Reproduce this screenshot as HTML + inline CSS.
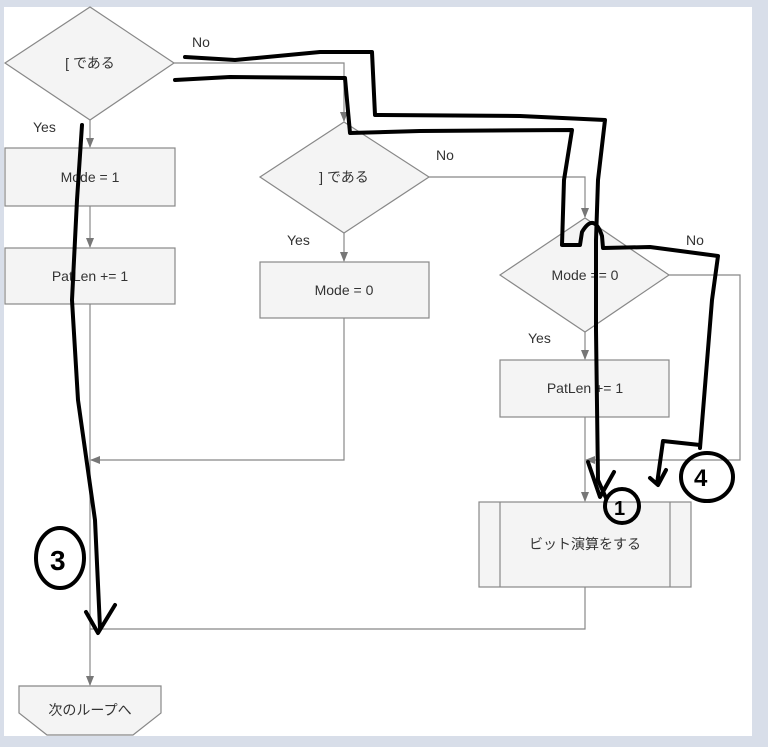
<!DOCTYPE html>
<html><head><meta charset="utf-8"><style>
html,body{margin:0;padding:0;background:#d8dee9;}
svg{display:block;}
text{font-family:"Liberation Sans","Noto Sans CJK JP",sans-serif;font-size:14px;fill:#333;}
</style></head><body>
<svg width="768" height="747" viewBox="0 0 768 747" xmlns="http://www.w3.org/2000/svg">
<rect x="0" y="0" width="768" height="747" fill="#d8dee9"/>
<rect x="4" y="7" width="748" height="729" fill="#fff"/>
<defs><marker id="a" markerWidth="10" markerHeight="10" refX="9" refY="5" orient="auto" markerUnits="userSpaceOnUse"><path d="M0,1 L10,5 L0,9 Z" fill="#777"/></marker></defs>
<g fill="#f4f4f4" stroke="#888" stroke-width="1.2">
<polygon points="5,63 90,7 174,63 90,120"/>
<rect x="5" y="148" width="170" height="58"/>
<rect x="5" y="248" width="170" height="56"/>
<polygon points="260,177 344,122 429,177 344,233"/>
<rect x="260" y="262" width="169" height="56"/>
<polygon points="500,275 585,218 669,275 585,332"/>
<rect x="500" y="360" width="169" height="57"/>
<rect x="479" y="502" width="212" height="85"/>
<line x1="500" y1="502" x2="500" y2="587"/><line x1="670" y1="502" x2="670" y2="587"/>
<polygon points="19,686 161,686 161,713 133,735 47,735 19,713"/>
</g>
<g fill="none" stroke="#888" stroke-width="1.2">
<path d="M90,120 V147" marker-end="url(#a)"/>
<path d="M90,206 V247" marker-end="url(#a)"/>
<path d="M90,304 V685" marker-end="url(#a)"/>
<path d="M174,63 H344 V121" marker-end="url(#a)"/>
<path d="M344,233 V261" marker-end="url(#a)"/>
<path d="M344,318 V460 H91" marker-end="url(#a)"/>
<path d="M429,177 H585 V217" marker-end="url(#a)"/>
<path d="M585,332 V359" marker-end="url(#a)"/>
<path d="M585,417 V501" marker-end="url(#a)"/>
<path d="M669,275 H740 V460 H586" marker-end="url(#a)"/>
<path d="M585,587 V629 H90"/>
</g>
<text x="90" y="68" text-anchor="middle">[ である</text>
<text x="90" y="182" text-anchor="middle">Mode = 1</text>
<text x="90" y="281" text-anchor="middle">PatLen += 1</text>
<text x="344" y="182" text-anchor="middle">] である</text>
<text x="344" y="295" text-anchor="middle">Mode = 0</text>
<text x="585" y="280" text-anchor="middle">Mode == 0</text>
<text x="585" y="393" text-anchor="middle">PatLen += 1</text>
<text x="585" y="549" text-anchor="middle">ビット演算をする</text>
<text x="90" y="715" text-anchor="middle">次のループへ</text>
<text x="192" y="47">No</text><text x="33" y="132">Yes</text>
<text x="436" y="160">No</text><text x="287" y="245">Yes</text>
<text x="686" y="245">No</text><text x="528" y="343">Yes</text>
<g fill="none" stroke="#000" stroke-width="4" stroke-linecap="round" stroke-linejoin="round">
<path d="M185,57 L235,60 L320,52 L372,52 L375,115 L520,116 L605,120 L598,180 L596,240 L596,330 L598,480 L606,498"/>
<path d="M588,462 L600,497 L614,472"/>
<path d="M175,80 L230,77 L345,78 L350,133 L420,131 L572,130 L564,180 L562,245 L580,245 L582,232 Q594,212 602,236 L603,248 L650,247 L718,256 L712,300 L700,448"/>
<path d="M700,445 L663,441 L657,484 M650,478 L658,485 L666,470"/>
<ellipse cx="707" cy="477" rx="26" ry="24"/>
<ellipse cx="622" cy="506" rx="17" ry="17"/>
<path d="M82,125 L77,200 L72,300 L78,400 L95,520 L100,628 M86,612 L98,633 L115,605"/>
<ellipse cx="60" cy="558" rx="24" ry="30"/>
</g>
<text x="614" y="515" style="font-size:20px;fill:#000;font-weight:bold">1</text>
<text x="694" y="486" style="font-size:24px;fill:#000;font-weight:bold">4</text>
<text x="50" y="570" style="font-size:28px;fill:#000;font-weight:bold">3</text>
</svg>
</body></html>
